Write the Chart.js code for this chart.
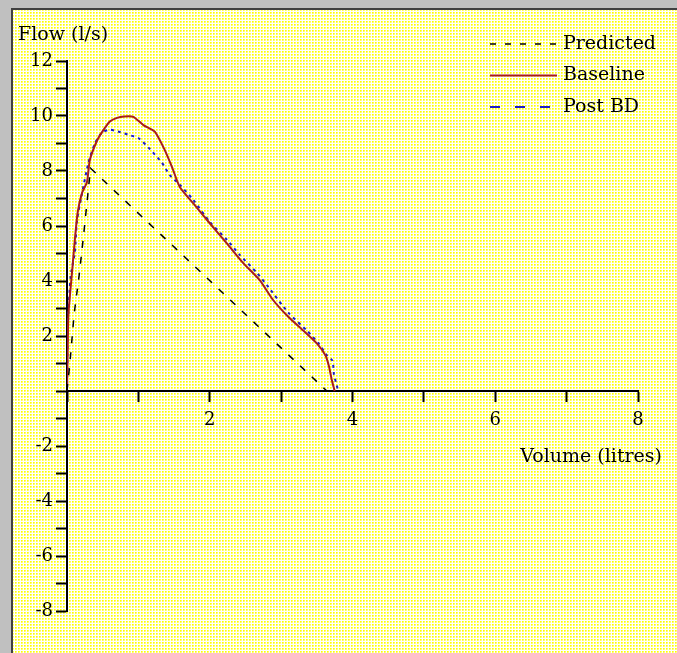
<!DOCTYPE html>
<html>
<head>
<meta charset="utf-8">
<script src="https://cdn.jsdelivr.net/npm/chart.js@4"></script>
<style>
  body { margin: 0; background: #c0c0c0; }
</style>
</head>
<body>
<canvas id="myChart" width="677" height="653"></canvas>
<script>
// Predicted
const predVol  = [0, 0.04, 0.1, 0.17, 0.23, 0.29, 0.33, 3.64];
const predFlow = [0, 1.0, 2.8, 4.2, 5.6, 7.1, 8.1, 0];

// Baseline
const baseVol  = [0, 0.01, 0.02, 0.07, 0.11, 0.15, 0.21, 0.28, 0.32, 0.42, 0.5, 0.6, 0.7, 0.8, 0.93, 1.07, 1.23, 1.37, 1.47, 1.58, 1.77, 2.0, 2.24, 2.47, 2.7, 2.89, 3.1, 3.31, 3.5, 3.62, 3.67, 3.71, 3.75];
const baseFlow = [0, 1.5, 2.8, 4.3, 5.5, 6.5, 7.2, 7.6, 8.4, 9.1, 9.45, 9.8, 9.93, 9.98, 9.97, 9.67, 9.43, 8.76, 8.15, 7.42, 6.82, 6.1, 5.37, 4.65, 4.03, 3.3, 2.7, 2.2, 1.73, 1.3, 0.9, 0.4, 0];

// Post BD
const postVol  = [0, 0.005, 0.01, 0.05, 0.11, 0.14, 0.2, 0.3, 0.39, 0.49, 0.6, 0.74, 0.88, 1.0, 1.16, 1.33, 1.44, 1.58, 1.77, 2.0, 2.24, 2.42, 2.66, 2.8, 3.1, 3.36, 3.52, 3.64, 3.72, 3.74, 3.78, 3.8];
const postFlow = [0, 0.8, 2.3, 4.15, 5.05, 6.2, 7.05, 8.3, 9.0, 9.4, 9.5, 9.42, 9.3, 9.2, 8.8, 8.3, 7.85, 7.5, 6.95, 6.15, 5.5, 4.95, 4.3, 3.85, 2.85, 2.2, 1.75, 1.3, 1.1, 0.6, 0.2, 0];

const xTitle = 'Volume (litres)';
const yTitle = 'Flow (l/s)';
const FONT = 'DejaVu Serif';

function pts(xs, ys) {
    return xs.map((x, i) => ({ x: x, y: ys[i] }));
}

// dotted yellow paper
function makePattern(ctx) {
    const c = document.createElement('canvas');
    c.width = 3; c.height = 3;
    const p = c.getContext('2d');
    p.fillStyle = '#ffffff';
    p.fillRect(0, 0, 3, 3);
    p.fillStyle = '#ffff90';
    p.fillRect(0, 0, 2, 2);
    p.fillStyle = '#ffff50';
    p.fillRect(0, 0, 2, 1);
    p.fillRect(0, 0, 1, 2);
    p.fillStyle = '#ffff00';
    p.fillRect(0, 0, 1, 1);
    return ctx.createPattern(c, 'repeat');
}

const paper = {
    id: 'paper',
    beforeDraw(chart) {
        const ctx = chart.ctx;
        ctx.save();
        ctx.fillStyle = '#c0c0c0';
        ctx.fillRect(0, 0, chart.width, chart.height);
        ctx.fillStyle = makePattern(ctx);
        ctx.fillRect(13, 10, chart.width - 13, chart.height - 10);
        ctx.fillStyle = '#404040';
        ctx.fillRect(11, 8, 2, chart.height - 8);
        ctx.fillRect(11, 8, chart.width - 11, 2);
        ctx.restore();
    }
};

const captions = {
    id: 'captions',
    afterDraw(chart) {
        const ctx = chart.ctx;
        ctx.save();
        ctx.fillStyle = '#000';
        ctx.font = '19px "' + FONT + '"';
        ctx.textBaseline = 'alphabetic';
        ctx.textAlign = 'left';
        ctx.fillText(yTitle, 18, 40);
        ctx.textAlign = 'right';
        ctx.fillText(xTitle, 662, 462);

        // legend
        ctx.textAlign = 'left';
        ctx.textBaseline = 'middle';
        chart.data.datasets.forEach((ds, i) => {
            const y = 44 + i * 31.5;
            ctx.strokeStyle = ds.borderColor;
            ctx.lineWidth = ds.legendWidth;
            ctx.setLineDash(ds.legendDash);
            ctx.beginPath();
            ctx.moveTo(490, y);
            ctx.lineTo(557, y);
            ctx.stroke();
            ctx.setLineDash([]);
            ctx.fillText(ds.label, 563, y);
        });
        ctx.restore();
    }
};

const tickFont = { family: FONT, size: 18 };

new Chart(document.getElementById('myChart'), {
    type: 'line',
    data: {
        datasets: [
            {
                label: 'Predicted',
                data: pts(predVol, predFlow),
                borderColor: '#000000',
                borderWidth: 1.5,
                borderDash: [7, 9],
                legendDash: [6, 9],
                legendWidth: 1.5
            },
            {
                label: 'Baseline',
                data: pts(baseVol, baseFlow),
                borderColor: '#a81c1c',
                borderWidth: 2,
                borderDash: [],
                tension: 0.2,
                legendDash: [],
                legendWidth: 2
            },
            {
                label: 'Post BD',
                data: pts(postVol, postFlow),
                borderColor: '#1c1cc8',
                borderWidth: 2,
                borderDash: [3, 4],
                tension: 0.2,
                legendDash: [10, 15],
                legendWidth: 2
            }
        ]
    },
    options: {
        responsive: false,
        animation: false,
        devicePixelRatio: 1,
        layout: {
            padding: { left: 11, right: 39, top: 61, bottom: 42 }
        },
        elements: {
            point: { radius: 0 },
            line: { tension: 0, fill: false }
        },
        scales: {
            x: {
                type: 'linear',
                min: 0,
                max: 8,
                position: { y: 0 },
                grid: {
                    drawOnChartArea: false,
                    tickLength: 10,
                    tickColor: '#000',
                    tickWidth: 2
                },
                border: { color: '#000', width: 2 },
                ticks: {
                    stepSize: 1,
                    autoSkip: false,
                    maxRotation: 0,
                    padding: 9,
                    color: '#000',
                    font: tickFont,
                    callback: v => (v % 2 === 0 && v !== 0) ? String(v) : ''
                }
            },
            y: {
                type: 'linear',
                min: -8,
                max: 12,
                position: 'left',
                afterFit: s => { s.width = 56; },
                grid: {
                    drawOnChartArea: false,
                    tickLength: 11,
                    tickColor: '#000',
                    tickWidth: 2
                },
                border: { color: '#000', width: 2 },
                ticks: {
                    stepSize: 1,
                    autoSkip: false,
                    padding: 3,
                    color: '#000',
                    font: tickFont,
                    callback: v => (v % 2 === 0 && v !== 0) ? String(v) : ''
                }
            }
        },
        plugins: {
            legend: { display: false },
            tooltip: { enabled: false }
        }
    },
    plugins: [paper, captions]
});
</script>
</body>
</html>
